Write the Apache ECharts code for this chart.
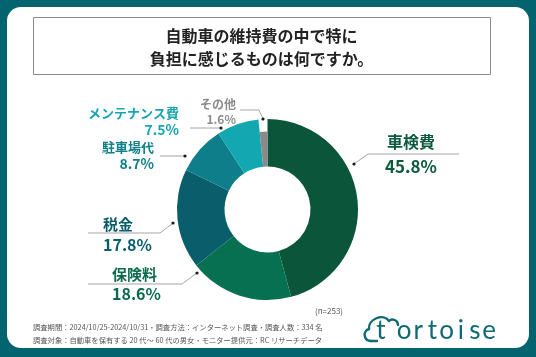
<!DOCTYPE html>
<html><head><meta charset="utf-8">
<script src="https://cdn.jsdelivr.net/npm/echarts@6/dist/echarts.min.js"></script>
<style>html,body{margin:0;padding:0;background:#03646f}#c{width:536px;height:357px}</style>
</head><body><div id="c"></div>
<script>
// ---- data ----
const categories = ['車検費', '保険料', '税金', '駐車場代', 'メンテナンス費', 'その他'];
const values = [45.8, 18.6, 17.8, 8.7, 7.5, 1.6];
const titleLines = ['自動車の維持費の中で特に', '負担に感じるものは何ですか。'];
const sampleNote = '(n=253)';
const footerLines = [
  '調査期間：2024/10/25-2024/10/31・調査方法：インターネット調査・調査人数：334 名',
  '調査対象：自動車を保有する 20 代～ 60 代の男女・モニター提供元：RC リサーチデータ'
];
const brandMark = 't';
const brandRest = 'ortoise';

// ---- styles ----
const FONT = "'Noto Sans CJK JP','Noto Sans',sans-serif";
const sliceColors = ['#0b553a', '#077050', '#0a5e6b', '#0e7f8a', '#12a7b1', '#8a8a8a'];
const labelColors = ['#0b5a3c', '#0a6b4c', '#0a5d6b', '#0f7f8a', '#17a6b1', '#8c8c8c'];
const narrowSlice = [false, false, false, false, false, true]; // drawn with a smaller outer radius
const LBL = [
  {dot: [354, 164], elbow: [368, 154], end: [459, 154], x: 411, align: 'center', y1: 142, y2: 166.5, fs1: 16, fs2: 17},
  {dot: [197, 273], elbow: [182, 284], end: [88, 284], x: 112, align: 'left', y1: 274, y2: 294, fs1: 15, fs2: 16},
  {dot: [173, 223], elbow: [160, 233], end: [88, 233], x: 103, align: 'left', y1: 224, y2: 245, fs1: 15, fs2: 16},
  {dot: [185, 156], elbow: [172, 156], end: [160, 156], x: 154, align: 'right', y1: 147, y2: 164, fs1: 13, fs2: 14},
  {dot: [221, 128], elbow: [205, 128], end: [190, 128], x: 179, align: 'right', y1: 113.5, y2: 130, fs1: 13, fs2: 14},
  {dot: [263, 119], elbow: [259, 110], end: [240, 110], x: 236, align: 'right', y1: 104, y2: 119, fs1: 12, fs2: 12}
];

const rich = {};
LBL.forEach((L, i) => {
  const lh = L.y2 - L.y1;
  rich['n' + i] = {fontSize: L.fs1, fontWeight: 'bold', color: labelColors[i], lineHeight: lh, fontFamily: FONT, align: L.align};
  rich['p' + i] = {fontSize: L.fs2, fontWeight: 'bold', color: labelColors[i], lineHeight: lh, fontFamily: FONT, align: L.align};
});

const chart = echarts.init(document.getElementById('c'), null, {renderer: 'canvas'});

const LOGO = '#0f6a73';
const graphics = [
  {type: 'rect', shape: {x: 7, y: 7, width: 522, height: 341, r: 14}, style: {fill: '#ffffff'}, z: -10},
  {type: 'rect', shape: {x: 33.5, y: 17.5, width: 457, height: 57}, style: {fill: '#fff', stroke: '#8a8a8a', lineWidth: 1}, z: -5},
  {type: 'text', x: 261.5, y: 36, style: {text: titleLines[0], font: 'bold 16px ' + FONT, fill: '#222', align: 'center', verticalAlign: 'middle'}},
  {type: 'text', x: 261.5, y: 59, style: {text: titleLines[1], font: 'bold 16px ' + FONT, fill: '#222', align: 'center', verticalAlign: 'middle'}},
  {type: 'text', x: 315, y: 311, style: {text: sampleNote, font: '8px ' + FONT, fill: '#555', verticalAlign: 'middle'}},
  {type: 'text', x: 33, y: 327, style: {text: footerLines[0], font: '7.3px ' + FONT, fill: '#555', verticalAlign: 'middle'}},
  {type: 'text', x: 33, y: 340, style: {text: footerLines[1], font: '7.3px ' + FONT, fill: '#555', verticalAlign: 'middle'}},
  // logo cloud
  {type: 'line', shape: {x1: 377, y1: 341, x2: 371, y2: 341}, style: {stroke: LOGO, lineWidth: 2.4, lineCap: 'round'}},
  {type: 'bezierCurve', shape: {x1: 371, y1: 341, cpx1: 364, cpy1: 341, cpx2: 362, cpy2: 331, x2: 369, y2: 329}, style: {fill: null, stroke: LOGO, lineWidth: 2.4, lineCap: 'round'}},
  {type: 'bezierCurve', shape: {x1: 369, y1: 329, cpx1: 368, cpy1: 319, cpx2: 383, cpy2: 313, x2: 389, y2: 321}, style: {fill: null, stroke: LOGO, lineWidth: 2.4, lineCap: 'round'}},
  {type: 'bezierCurve', shape: {x1: 389, y1: 321, cpx1: 392, cpy1: 318, cpx2: 398, cpy2: 320, x2: 398, y2: 325}, style: {fill: null, stroke: LOGO, lineWidth: 2.4, lineCap: 'round'}},
  {type: 'text', x: 381, y: 331, style: {text: brandMark, font: '26px Lato, sans-serif', fill: LOGO, align: 'center', verticalAlign: 'middle'}}
];
brandRest.split('').forEach((ch, k) => {
  graphics.push({type: 'text', x: 404 + k * 14.2, y: 331, style: {text: ch, font: '26px Lato, sans-serif', fill: LOGO, align: 'center', verticalAlign: 'middle'}});
});
LBL.forEach(L => {
  graphics.push({type: 'circle', shape: {cx: L.dot[0], cy: L.dot[1], r: 1.6}, style: {fill: '#1a1a1a'}, z: 10});
});

const CENTER = [267.5, 209.5];
chart.setOption({
  backgroundColor: '#03646f',
  animation: false,
  graphic: graphics,
  series: [{
    type: 'pie',
    center: CENTER,
    radius: [43, 90.5],
    startAngle: 90,
    clockwise: true,
    avoidLabelOverlap: false,
    data: categories.map((n, i) => ({name: n, value: values[i], itemStyle: {color: narrowSlice[i] ? 'rgba(0,0,0,0)' : sliceColors[i]}})),
    label: {
      show: true,
      position: 'outside',
      formatter: p => '{n' + p.dataIndex + '|' + p.name + '}\n{p' + p.dataIndex + '|' + values[p.dataIndex].toFixed(1) + '%}',
      rich: rich
    },
    labelLine: {show: true, lineStyle: {color: '#9a9a9a', width: 0.9}},
    labelLayout: function (params) {
      const L = LBL[params.dataIndex];
      return {
        x: L.x, y: (L.y1 + L.y2) / 2, align: L.align, verticalAlign: 'middle',
        labelLinePoints: [L.dot.slice(), L.elbow.slice(), L.end.slice()]
      };
    },
    emphasis: {disabled: true}
  }, {
    type: 'pie',
    center: CENTER,
    radius: [43, 78],
    startAngle: 90,
    clockwise: true,
    silent: true,
    label: {show: false},
    labelLine: {show: false},
    data: categories.map((n, i) => ({name: n, value: values[i], itemStyle: {color: narrowSlice[i] ? sliceColors[i] : 'rgba(0,0,0,0)'}})),
    emphasis: {disabled: true}
  }]
});
</script></body></html>
